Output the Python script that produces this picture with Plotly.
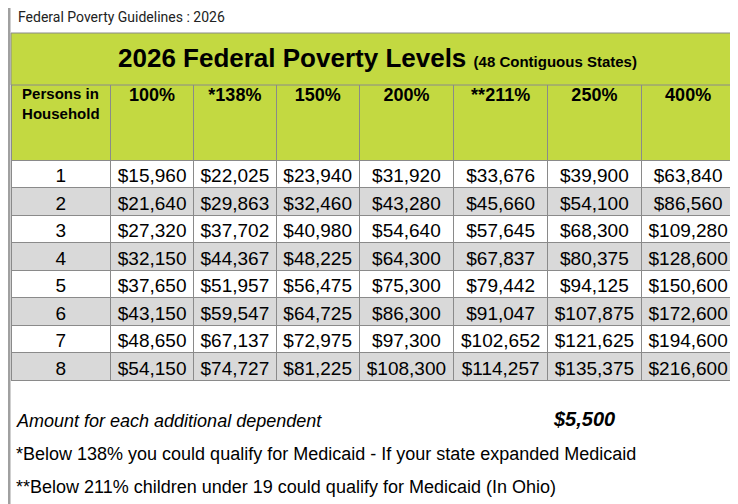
import plotly.graph_objects as go

W, H = 738, 504
headers = ["Persons in<br>Household", "100%", "*138%", "150%", "200%", "**211%", "250%", "400%"]
persons = ["1", "2", "3", "4", "5", "6", "7", "8"]
p100 = ["$15,960", "$21,640", "$27,320", "$32,150", "$37,650", "$43,150", "$48,650", "$54,150"]
p138 = ["$22,025", "$29,863", "$37,702", "$44,367", "$51,957", "$59,547", "$67,137", "$74,727"]
p150 = ["$23,940", "$32,460", "$40,980", "$48,225", "$56,475", "$64,725", "$72,975", "$81,225"]
p200 = ["$31,920", "$43,280", "$54,640", "$64,300", "$75,300", "$86,300", "$97,300", "$108,300"]
p211 = ["$33,676", "$45,660", "$57,645", "$67,837", "$79,442", "$91,047", "$102,652", "$114,257"]
p250 = ["$39,900", "$54,100", "$68,300", "$80,375", "$94,125", "$107,875", "$121,625", "$135,375"]
p400 = ["$63,840", "$86,560", "$109,280", "$128,600", "$150,600", "$172,600", "$194,600", "$216,600"]
col_widths = [100, 83, 83, 83, 95, 94, 94, 94]

green = "#C3D941"
grid = "#8a8a8a"
row_fill = ["white" if i % 2 == 0 else "#d9d9d9" for i in range(len(persons))]
DY = -8  # compensation for page offset

def py(px):
    return 1 - (px + DY) / H

hdr = [("<b><br>" + h + "</b>") if "<br>" in h else ("<b><br><br><br><span style='font-size:18px'>" + h + "</span></b>") for h in headers]

fig = go.Figure(go.Table(
    columnwidth=col_widths,
    domain=dict(x=[3 / W, 727 / W], y=[py(395), py(77)]),
    header=dict(values=hdr, fill_color=green, line_color=grid, align="center",
                height=83, font=dict(family="Liberation Sans, Arial", size=15, color="black")),
    cells=dict(values=[persons, p100, p138, p150, p200, p211, p250, p400],
               fill_color=[row_fill] * 8, line_color=grid, align="center", height=27.5,
               font=dict(family="Liberation Sans, Arial", size=19, color="black")),
))

shapes = [
    dict(type="rect", xref="paper", yref="paper", x0=3 / W, x1=727 / W, y0=py(85), y1=py(33),
         fillcolor=green, line=dict(color=grid, width=1), layer="above"),
    dict(type="line", xref="paper", yref="paper", x0=0, x1=1, y0=py(2), y1=py(2),
         line=dict(color="#a0a0a0", width=3)),
    dict(type="line", xref="paper", yref="paper", x0=1 / W, x1=1 / W, y0=0, y1=1,
         line=dict(color="#a0a0a0", width=3)),
]
ann = [
    dict(text="Federal Poverty Guidelines : 2026", x=8 / W, y=py(17), xanchor="left", yanchor="middle",
         font=dict(family="Roboto, Liberation Sans", size=14, color="#222")),
    dict(text="<b>2026 Federal Poverty Levels</b> <b><span style='font-size:15px'>(48 Contiguous States)</span></b>",
         x=370 / W, y=py(58), xanchor="center", yanchor="middle",
         font=dict(family="Liberation Sans, Arial", size=26, color="black")),
    dict(text="<i>Amount for each additional dependent</i>", x=6 / W, y=py(421), xanchor="left", yanchor="middle",
         font=dict(family="Liberation Sans, Arial", size=18, color="black")),
    dict(text="<b><i>$5,500</i></b>", x=576 / W, y=py(419), xanchor="center", yanchor="middle",
         font=dict(family="Liberation Sans, Arial", size=20, color="black")),
    dict(text="*Below 138% you could qualify for Medicaid - If your state expanded Medicaid", x=6 / W, y=py(454),
         xanchor="left", yanchor="middle", font=dict(family="Liberation Sans, Arial", size=18, color="black")),
    dict(text="**Below 211% children under 19 could qualify for Medicaid (In Ohio)", x=6 / W, y=py(487),
         xanchor="left", yanchor="middle", font=dict(family="Liberation Sans, Arial", size=18, color="black")),
]
for a in ann:
    a.update(xref="paper", yref="paper", showarrow=False)

fig.update_layout(width=W, height=H, margin=dict(l=0, r=0, t=0, b=0), paper_bgcolor="white",
                  shapes=shapes, annotations=ann)
fig.write_html("out.html")
